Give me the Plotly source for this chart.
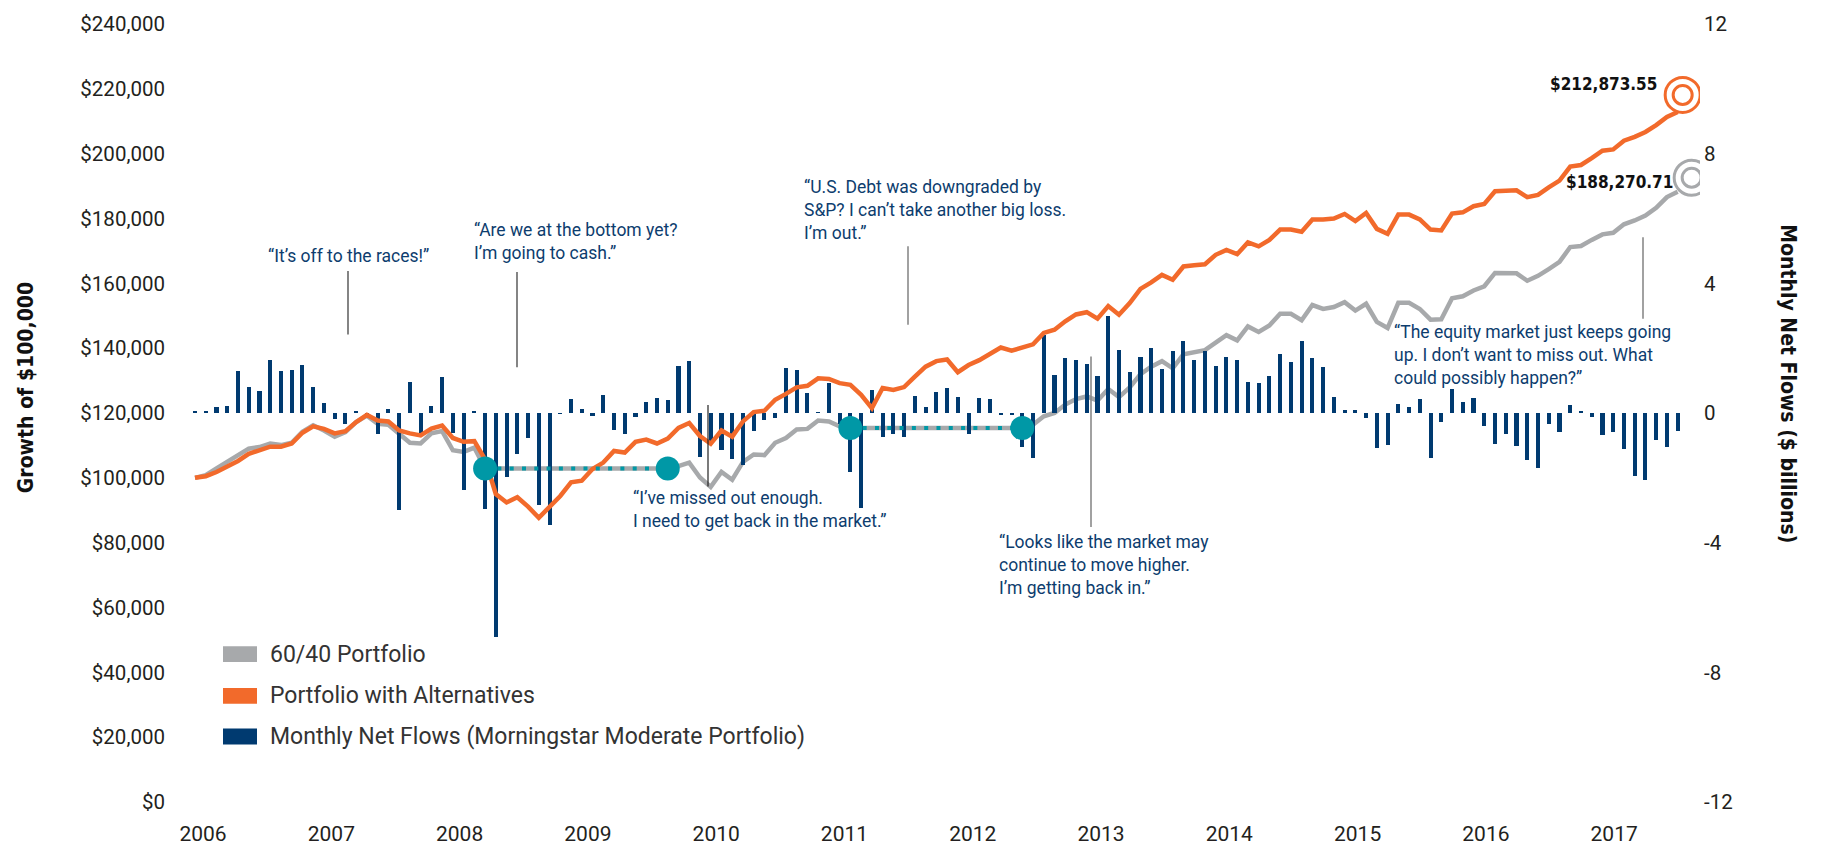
import numpy as np
import plotly.graph_objects as go

# ---------------- data ----------------
year_labels = ["2006", "2007", "2008", "2009", "2010", "2011", "2012",
               "2013", "2014", "2015", "2016", "2017"]

# Monthly net flows, $ billions (Morningstar Moderate Portfolio), one per month
net_flows = [
    0.04, 0.05, 0.20, 0.23, 1.31, 0.80, 0.68, 1.64, 1.29, 1.34, 1.48, 0.81,
    0.30, -0.17, -0.33, 0.07, -0.03, -0.64, 0.12, -3.00, 0.96, -0.64, 0.22, 1.10,
    -0.63, -2.39, 0.04, -2.95, -6.90, -1.98, -1.26, -0.76, -2.84, -3.45, -0.03, 0.42,
    0.12, -0.08, 0.55, -0.52, -0.64, -0.13, 0.33, 0.45, 0.41, 1.46, 1.61, -1.35,
    -0.95, -1.15, -1.41, -1.61, -0.55, -0.23, -0.15, 1.40, 1.32, 0.63, 0.02, 0.92,
    -0.34, -1.82, -2.94, 0.71, -0.74, -0.64, -0.74, 0.52, 0.19, 0.65, 0.78, 0.49,
    -0.64, 0.47, 0.42, -0.07, -0.07, -1.05, -1.38, 2.42, 1.17, 1.69, 1.64, 1.51,
    1.15, 2.98, 1.95, 1.28, 1.73, 2.01, 1.37, 1.92, 2.21, 1.63, 1.90, 1.45,
    1.74, 1.64, 0.95, 0.94, 1.13, 1.82, 1.58, 2.22, 1.70, 1.43, 0.48, 0.09,
    0.09, -0.16, -1.08, -1.00, 0.28, 0.17, 0.43, -1.38, -0.29, 0.73, 0.33, 0.46,
    -0.41, -0.96, -0.64, -1.03, -1.44, -1.71, -0.34, -0.59, 0.26, 0.05, -0.13, -0.69,
    -0.59, -1.12, -1.95, -2.07, -0.82, -1.05, -0.54,
]

# Portfolio with Alternatives, growth of $100,000 (in $ thousands)
alt_k = [
    100.0, 100.5, 101.8, 103.4, 105.2, 107.4, 108.5, 109.6, 109.6, 110.6, 113.9, 115.9,
    115.1, 113.7, 114.4, 117.2, 119.4, 117.7, 117.4, 114.6, 113.7, 113.1, 115.2, 116.1,
    112.3, 111.1, 111.3, 105.7, 95.0, 92.4, 94.0, 91.1, 87.7, 90.9, 94.4, 98.6,
    99.1, 102.7, 104.7, 108.3, 107.8, 111.1, 111.8, 110.6, 112.1, 115.4, 116.9, 112.9,
    110.5, 114.6, 112.7, 117.4, 120.3, 120.7, 124.1, 125.9, 127.9, 128.4, 130.7, 130.5,
    129.2, 128.7, 125.6, 121.5, 127.7, 127.1, 128.0, 131.2, 134.3, 136.0, 136.5, 132.6,
    134.8, 136.3, 138.2, 140.2, 139.2, 140.1, 141.2, 144.7, 145.7, 148.3, 150.4, 151.1,
    149.1, 153.0, 150.3, 153.9, 158.3, 160.3, 162.6, 161.1, 165.2, 165.6, 165.9, 168.8,
    170.3, 169.0, 172.6, 171.4, 173.4, 176.6, 176.6, 175.9, 179.7, 179.7, 180.0, 181.4,
    179.2, 181.7, 176.8, 175.3, 181.2, 181.2, 179.7, 176.6, 176.3, 181.5, 181.9, 183.8,
    184.5, 188.4, 188.6, 188.7, 186.6, 187.3, 189.6, 191.7, 196.0, 196.5, 198.6, 200.9,
    201.3, 204.0, 205.2, 206.7, 208.8, 211.3, 212.87355,
]

# 60/40 Portfolio, growth of $100,000 (in $ thousands); flat stretches = in cash
p6040_k = [
    100.0, 100.8, 102.9, 104.9, 107.2, 109.0, 109.5, 110.6, 110.1, 110.8, 114.2, 116.2,
    114.6, 112.7, 114.1, 117.2, 119.2, 116.7, 116.4, 113.4, 110.8, 110.6, 113.7, 114.4,
    108.5, 108.0, 109.3, 102.9, 102.9, 102.9, 102.9, 102.9, 102.9, 102.9, 102.9, 102.9,
    102.9, 102.9, 102.9, 102.9, 102.9, 102.9, 102.9, 102.9, 102.9, 103.6, 104.7, 100.1,
    97.2, 101.8, 99.4, 104.9, 107.2, 107.0, 110.8, 112.3, 114.9, 115.1, 117.7, 117.4,
    115.9, 115.4, 115.4, 115.4, 115.4, 115.4, 115.4, 115.4, 115.4, 115.4, 115.4, 115.4,
    115.4, 115.4, 115.4, 115.4, 115.4, 115.4, 116.4, 119.0, 120.0, 122.6, 124.3, 125.1,
    123.8, 127.4, 124.9, 127.9, 132.0, 134.3, 136.0, 133.8, 138.1, 138.6, 139.4, 141.7,
    144.0, 142.4, 146.7, 145.0, 147.0, 150.6, 150.6, 148.6, 153.3, 152.1, 152.7, 154.2,
    151.6, 153.7, 148.1, 146.2, 154.0, 154.0, 152.1, 148.8, 148.9, 155.4, 156.0, 157.8,
    159.1, 163.2, 163.2, 163.1, 160.8, 162.3, 164.4, 166.6, 171.2, 171.5, 173.4, 175.1,
    175.6, 178.2, 179.4, 180.9, 183.3, 186.6, 188.27071,
]

# months (index) where the 60/40 investor moved to cash and back
cash_start = [27, 61]
cash_end = [44, 77]

series_names = ["60/40 Portfolio", "Portfolio with Alternatives",
                "Monthly Net Flows (Morningstar Moderate Portfolio)"]

quotes = [
    "“It’s off to the races!”",
    "“Are we at the bottom yet?<br>I’m going to cash.”",
    "“I’ve missed out enough.<br>I need to get back in the market.”",
    "“U.S. Debt was downgraded by<br>S&P? I can’t take another big loss.<br>I’m out.”",
    "“Looks like the market may<br>continue to move higher.<br>I’m getting back in.”",
    "“The equity market just keeps going<br>up. I don’t want to miss out. What<br>could possibly happen?”",
]

# ---------------- styling ----------------
GRAY = "#a7a9ab"
ORANGE = "#f26a2b"
NAVY = "#003a70"
TEAL = "#0098a6"
TEXT_BLUE = "#0d3d6e"
TICK = "#231f20"
FONT = "Roboto"
COND = "DejaVu Sans Condensed, Roboto, sans-serif"

W, H = 1824, 858
L, R, T, B = 180, 1700, 23, 807          # plot area in pixels
X0_PX, MONTH_PX = 195.0, 10.744          # first month position / month spacing


def pxx(x):
    return (x - L) / (R - L)


def pxy(y):
    return (B - y) / (B - T)


months = np.arange(len(net_flows))
alt = np.array(alt_k) * 1000.0
p6040 = np.array(p6040_k) * 1000.0
flows = np.array(net_flows)

fig = go.Figure()

# 60/40 line (bottom layer)
fig.add_trace(go.Scatter(x=months, y=p6040, mode="lines", name=series_names[0],
                         line=dict(color=GRAY, width=4.5), yaxis="y",
                         showlegend=False, hoverinfo="skip"))

# Net flow bars (right axis)
fig.add_trace(go.Bar(x=months, y=flows, name=series_names[2], marker_color=NAVY,
                     marker_line_width=0, width=0.38, yaxis="y2",
                     showlegend=False, hoverinfo="skip"))

# Alternatives line
fig.add_trace(go.Scatter(x=months, y=alt, mode="lines", name=series_names[1],
                         line=dict(color=ORANGE, width=4.5), yaxis="y3",
                         showlegend=False, hoverinfo="skip"))

# cash periods: dotted teal over the flat gray line, circles at both ends
for s, e in zip(cash_start, cash_end):
    xs = months[s:e + 1]
    ys = p6040[s:e + 1]
    fig.add_trace(go.Scatter(x=xs, y=ys, mode="lines",
                             line=dict(color=TEAL, width=4, dash="4px,8.3px"),
                             yaxis="y3", showlegend=False, hoverinfo="skip"))
    fig.add_trace(go.Scatter(x=[months[s], months[e]], y=[p6040[s], p6040[e]],
                             mode="markers", marker=dict(color=TEAL, size=24),
                             yaxis="y3", showlegend=False, hoverinfo="skip"))

shapes = []
annotations = []

# end-point rings
last = months[-1]
for val, col, dx, dy in [(alt[-1], ORANGE, 5, 17), (p6040[-1], GRAY, 14, 14)]:
    for r in (17.5, 9.5):
        shapes.append(dict(type="circle", xref="x", yref="y", xsizemode="pixel",
                           ysizemode="pixel", xanchor=last, yanchor=val,
                           x0=dx - r, x1=dx + r, y0=dy - r, y1=dy + r,
                           line=dict(color=col, width=3), fillcolor="rgba(0,0,0,0)"))

# end value labels
for val, xs, ys in [(alt[-1], -19, 28), (p6040[-1], -3, 10)]:
    annotations.append(dict(x=last, y=val, xref="x", yref="y", xanchor="right",
                            yanchor="middle", xshift=xs, yshift=ys,
                            text=f"<b>${val:,.2f}</b>", showarrow=False,
                            font=dict(family=COND, size=17, color="#111")))

# quote annotations: (text, x_px, y_px, xanchor)
q_pos = [(348, 257, "center"), (472, 242, "left"), (631, 512, "left"),
         (802, 210, "left"), (997, 568, "left"), (1392, 357, "left")]
for txt, (x, y, xa) in zip(quotes, q_pos):
    annotations.append(dict(x=pxx(x), y=pxy(y), xref="paper", yref="paper",
                            xanchor=xa, yanchor="middle", align="left",
                            text=txt, showarrow=False,
                            font=dict(family=FONT, size=17.5, color=TEXT_BLUE)))

# leader lines: (x_px, y0_px, y1_px, color, width)
leaders = [(348, 272, 336, "#333333", 1.2), (517, 273, 369, "#333333", 1.2),
           (708, 407, 489, "#222222", 1.2), (908, 247, 326, "#8a8a8a", 1.6),
           (1091, 358, 530, "#8a8a8a", 1.6), (1643, 238, 320, "#8a8a8a", 1.6)]
for x, y0, y1, c, w in leaders:
    shapes.append(dict(type="line", xref="paper", yref="paper",
                       x0=pxx(x), x1=pxx(x), y0=pxy(y0), y1=pxy(y1),
                       line=dict(color=c, width=w), layer="above"))

# legend (swatch + label)
legend_cols = [GRAY, ORANGE, NAVY]
legend_rows = [658, 700, 741]
for name, col, y in zip(series_names, legend_cols, legend_rows):
    shapes.append(dict(type="rect", xref="paper", yref="paper",
                       x0=pxx(223), x1=pxx(257), y0=pxy(y + 8), y1=pxy(y - 8),
                       fillcolor=col, line=dict(width=0)))
    annotations.append(dict(x=pxx(268), y=pxy(y), xref="paper", yref="paper",
                            xanchor="left", yanchor="middle", text=name,
                            showarrow=False,
                            font=dict(family=FONT, size=23, color="#333333")))

# axis titles
annotations.append(dict(x=pxx(26), y=pxy(390), xref="paper", yref="paper",
                        text="<b>Growth of $100,000</b>", textangle=-90,
                        showarrow=False, xanchor="center", yanchor="middle",
                        font=dict(family=COND, size=21, color="#111")))
annotations.append(dict(x=pxx(1788), y=pxy(385), xref="paper", yref="paper",
                        text="<b>Monthly Net Flows ($ billions)</b>", textangle=90,
                        showarrow=False, xanchor="center", yanchor="middle",
                        font=dict(family=COND, size=21, color="#111")))

left_ticks = list(range(0, 240001, 20000))
right_ticks = [-12, -8, -4, 0, 4, 8, 12]
year_pos = [0.75 + 11.94 * k for k in range(len(year_labels))]

fig.update_layout(
    width=W, height=H,
    margin=dict(l=L, r=W - R, t=T, b=H - B, pad=0),
    paper_bgcolor="white", plot_bgcolor="white",
    font=dict(family=FONT, color=TICK),
    showlegend=False,
    bargap=0,
    xaxis=dict(range=[(L - X0_PX) / MONTH_PX, (R - X0_PX) / MONTH_PX],
               tickvals=year_pos, ticktext=year_labels, showgrid=False,
               zeroline=False, showline=False, ticks="",
               ticklabelstandoff=17, tickfont=dict(family=FONT, size=21, color=TICK)),
    yaxis=dict(range=[0, 240000], tickvals=left_ticks, tickformat="$,.0f",
               showgrid=False, zeroline=False, showline=False, ticks="",
               ticklabelstandoff=14, tickfont=dict(family=FONT, size=20.5, color=TICK)),
    yaxis2=dict(range=[-12, 12], overlaying="y", side="right", tickvals=right_ticks,
                ticktext=[str(v) for v in right_ticks], showgrid=False,
                zeroline=False, showline=False, ticks="", ticklabelstandoff=3,
                tickfont=dict(family=FONT, size=20.5, color=TICK)),
    yaxis3=dict(range=[0, 240000], overlaying="y", visible=False),
    shapes=shapes,
    annotations=annotations,
)

fig.write_html("out.html")
